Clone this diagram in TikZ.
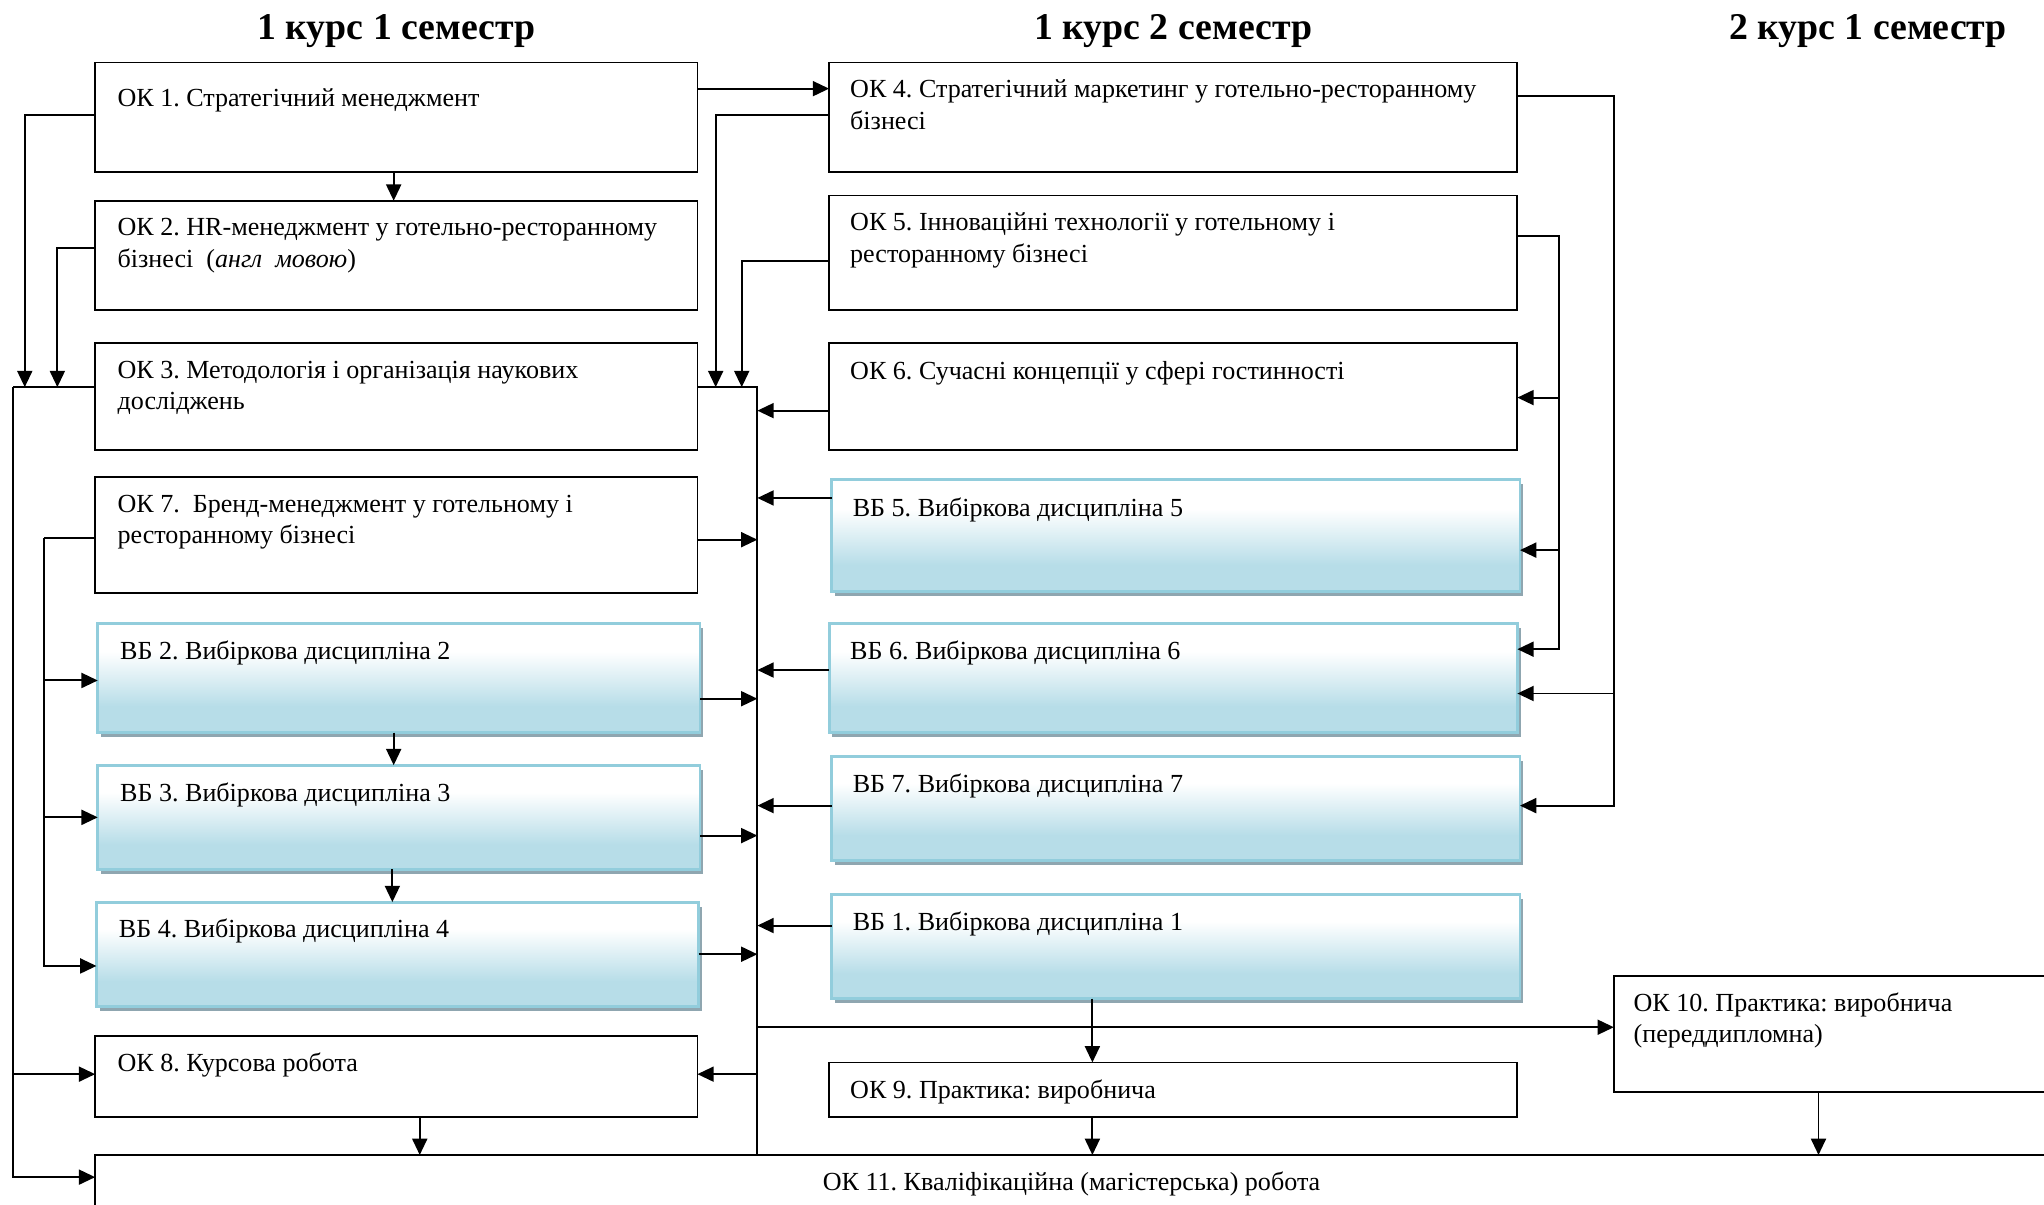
\documentclass[tikz,border=0pt]{standalone}
\usepackage{fontspec}
\setmainfont{Liberation Serif}
\usetikzlibrary{arrows.meta,shadows}
\definecolor{vbblue}{RGB}{183,221,232}
\definecolor{vbborder}{RGB}{146,205,220}
\definecolor{vbshadow}{RGB}{143,166,176}
\pgfdeclareverticalshading{vbshade}{100bp}{color(0bp)=(vbblue); color(25bp)=(vbblue); color(37bp)=(vbblue); color(62bp)=(white); color(75bp)=(white); color(100bp)=(white)}
\frenchspacing
\begin{document}
\begin{tikzpicture}[x=1pt,y=-1pt,
 okbox/.style={draw=black, line width=1.4pt, fill=white, anchor=north west, inner sep=0pt, outer sep=0pt},
 vbbox/.style={draw=vbborder, line width=2.2pt, shade, shading=vbshade, anchor=north west, inner sep=0pt, outer sep=0pt, drop shadow={shadow xshift=2.5pt, shadow yshift=-3.5pt, fill=vbshadow, opacity=1}},
 txt/.style={anchor=north west, inner sep=0pt, align=left, font=\fontsize{20}{24}\selectfont},
 hdr/.style={anchor=base, inner sep=0pt, font=\fontsize{29}{34}\selectfont\bfseries},
 con/.style={line width=1.5pt},
 arr/.style={con, -{Triangle[length=12.5pt,width=11.5pt]}},
]
\useasboundingbox (0,0) rectangle (1568,924);
\clip (0,0) rectangle (1568,924);

% headers
\node[hdr] (h1) at (304,30) {1 курс 1 семестр};
\node[hdr] (h2) at (900,30) {1 курс 2 семестр};
\node[hdr] (h3) at (1433,30) {2 курс 1 семестр};

% left column
\node[okbox, minimum width=462pt, minimum height=84pt] (ok1) at (73,48) {};
\node[okbox, minimum width=462pt, minimum height=84pt] (ok2) at (73,154) {};
\node[okbox, minimum width=462pt, minimum height=82pt] (ok3) at (73,263) {};
\node[okbox, minimum width=462pt, minimum height=89pt] (ok7) at (73,366) {};
\node[vbbox, minimum width=462pt, minimum height=84pt] (vb2) at (75,478) {};
\node[vbbox, minimum width=462pt, minimum height=80pt] (vb3) at (75,587) {};
\node[vbbox, minimum width=462pt, minimum height=80pt] (vb4) at (74,692) {};
\node[okbox, minimum width=462pt, minimum height=62pt] (ok8) at (73,795) {};
\node[okbox, minimum width=1520pt, minimum height=80pt] (ok11) at (73,886) {};
% middle column
\node[okbox, minimum width=528pt, minimum height=84pt] (ok4) at (636,48) {};
\node[okbox, minimum width=528pt, minimum height=88pt] (ok5) at (636,150) {};
\node[okbox, minimum width=528pt, minimum height=82pt] (ok6) at (636,263) {};
\node[vbbox, minimum width=528pt, minimum height=86pt] (vb5) at (638,368) {};
\node[vbbox, minimum width=528pt, minimum height=84pt] (vb6) at (636,478) {};
\node[vbbox, minimum width=528pt, minimum height=80pt] (vb7) at (638,580) {};
\node[vbbox, minimum width=528pt, minimum height=80pt] (vb1) at (638,686) {};
\node[okbox, minimum width=528pt, minimum height=42pt] (ok9) at (636,815) {};
\node[okbox, minimum width=400pt, minimum height=89pt] (ok10) at (1238,749) {};

% texts
\node[txt] (ok1t) at ([xshift=17pt,yshift=-17pt]ok1.north west) {\strut ОК 1. Стратегічний менеджмент};
\node[txt] (ok2t) at ([xshift=17pt,yshift=-10pt]ok2.north west) {\strut ОК 2. HR-менеджмент у готельно-ресторанному\\бізнесі\ \ (\textit{англ\ \ мовою})};
\node[txt] (ok3t) at ([xshift=17pt,yshift=-10pt]ok3.north west) {\strut ОК 3. Методологія і організація наукових\\досліджень};
\node[txt] (ok7t) at ([xshift=17pt,yshift=-10pt]ok7.north west) {\strut ОК 7.\ \ Бренд-менеджмент у готельному і\\ресторанному бізнесі};
\node[txt] (vb2t) at ([xshift=17pt,yshift=-11pt]vb2.north west) {\strut ВБ 2. Вибіркова дисципліна 2};
\node[txt] (vb3t) at ([xshift=17pt,yshift=-11pt]vb3.north west) {\strut ВБ 3. Вибіркова дисципліна 3};
\node[txt] (vb4t) at ([xshift=17pt,yshift=-10pt]vb4.north west) {\strut ВБ 4. Вибіркова дисципліна 4};
\node[txt] (ok8t) at ([xshift=17pt,yshift=-10pt]ok8.north west) {\strut ОК 8. Курсова робота};
\node[txt] (ok4t) at ([xshift=16pt,yshift=-10pt]ok4.north west) {\strut ОК 4. Стратегічний маркетинг у готельно-ресторанному\\бізнесі};
\node[txt] (ok5t) at ([xshift=16pt,yshift=-10pt]ok5.north west) {\strut ОК 5. Інноваційні технології у готельному і\\ресторанному бізнесі};
\node[txt] (ok6t) at ([xshift=16pt,yshift=-11pt]ok6.north west) {\strut ОК 6. Сучасні концепції у сфері гостинності};
\node[txt] (vb5t) at ([xshift=16pt,yshift=-11pt]vb5.north west) {\strut ВБ 5. Вибіркова дисципліна 5};
\node[txt] (vb6t) at ([xshift=16pt,yshift=-11pt]vb6.north west) {\strut ВБ 6. Вибіркова дисципліна 6};
\node[txt] (vb7t) at ([xshift=16pt,yshift=-11pt]vb7.north west) {\strut ВБ 7. Вибіркова дисципліна 7};
\node[txt] (vb1t) at ([xshift=16pt,yshift=-11pt]vb1.north west) {\strut ВБ 1. Вибіркова дисципліна 1};
\node[txt] (ok9t) at ([xshift=16pt,yshift=-11pt]ok9.north west) {\strut ОК 9. Практика: виробнича};
\node[txt] (ok10t) at ([xshift=15pt,yshift=-10pt]ok10.north west) {\strut ОК 10. Практика: виробнича\\(переддипломна)};
\node[anchor=base, inner sep=0pt, font=\fontsize{20}{24}\selectfont] (ok11t) at ([xshift=749pt,yshift=-27pt]ok11.north west) {ОК 11. Кваліфікаційна (магістерська) робота};

% reference coordinates
\coordinate (lb) at (10,297);
\coordinate (la1) at (19,297);
\coordinate (la2) at (44,297);
\coordinate (lb2) at (34,413);
\coordinate (rb) at (581,297);
\coordinate (ra1) at (549,297);
\coordinate (ra2) at (569,297);
\coordinate (rr) at (1238,0);
\coordinate (rr2) at (1196,0);

% ports
\coordinate (ok1l) at ([yshift=-40pt]ok1.north west);
\coordinate (ok1r) at ([yshift=-20pt]ok1.north east);
\coordinate (ok4l20) at ([yshift=-20pt]ok4.north west);
\coordinate (ok2l) at ([yshift=-36pt]ok2.north west);
\coordinate (ok3l) at ([yshift=-34pt]ok3.north west);
\coordinate (ok3r) at ([yshift=-34pt]ok3.north east);
\coordinate (ok7l) at ([yshift=-47pt]ok7.north west);
\coordinate (ok7r) at ([yshift=-48pt]ok7.north east);
\coordinate (vb2l) at ([yshift=-44pt]vb2.north west);
\coordinate (vb2r) at ([yshift=-58pt]vb2.north east);
\coordinate (vb3l) at ([yshift=-40pt]vb3.north west);
\coordinate (vb3r) at ([yshift=-54pt]vb3.north east);
\coordinate (vb4l) at ([yshift=-49pt]vb4.north west);
\coordinate (vb4r) at ([yshift=-40pt]vb4.north east);
\coordinate (ok8l) at ([yshift=-29pt]ok8.north west);
\coordinate (ok8r) at ([yshift=-29pt]ok8.north east);
\coordinate (ok11l) at ([yshift=-17pt]ok11.north west);
\coordinate (ok4l) at ([yshift=-40pt]ok4.north west);
\coordinate (ok4r) at ([yshift=-26pt]ok4.north east);
\coordinate (ok5l) at ([yshift=-50pt]ok5.north west);
\coordinate (ok5r) at ([yshift=-31pt]ok5.north east);
\coordinate (ok6l) at ([yshift=-52pt]ok6.north west);
\coordinate (ok6r) at ([yshift=-42pt]ok6.north east);
\coordinate (vb5l) at ([yshift=-14pt]vb5.north west);
\coordinate (vb5r) at ([yshift=-54pt]vb5.north east);
\coordinate (vb6l) at ([yshift=-36pt]vb6.north west);
\coordinate (vb6r1) at ([yshift=-20pt]vb6.north east);
\coordinate (vb6r2) at ([yshift=-54pt]vb6.north east);
\coordinate (vb7l) at ([yshift=-38pt]vb7.north west);
\coordinate (vb7r) at ([yshift=-38pt]vb7.north east);
\coordinate (vb1l) at ([yshift=-24pt]vb1.north west);
\coordinate (ok10l) at ([yshift=-39pt]ok10.north west);
\coordinate (c9) at ([xshift=-62pt]ok9.north);
\coordinate (c10) at ([xshift=157pt]ok10.south west);
\coordinate (c8) at ([xshift=18pt]ok8.south);

% connectors left column
\draw[arr] (ok1r) -- (ok4l20);
\draw[arr] ([xshift=-2pt]ok1.south) -- ([xshift=-2pt]ok2.north);
\draw[arr] (ok1l) -| (la1);
\draw[arr] (ok2l) -| (la2);
\draw[con] (ok3l) -- (lb);
\draw[arr] (lb) |- (ok11l);
\draw[arr] (lb |- ok8l) -- (ok8l);
\draw[con] (ok7l) -- (lb2);
\draw[arr] (lb2) |- (vb4l);
\draw[arr] (lb2 |- vb2l) -- (vb2l);
\draw[arr] (lb2 |- vb3l) -- (vb3l);
\draw[arr] ([xshift=-4pt]vb2.south) -- ([xshift=-4pt]vb3.north);
\draw[arr] ([xshift=-5pt]vb3.south) -- ([xshift=-4pt]vb4.north);
\draw[arr] (c8) -- (c8 |- ok11.north);

% right bus
\draw[con] (ok3r) -- (rb) -- (rb |- ok11.north);
\draw[arr] (ok7r) -- (ok7r -| rb);
\draw[arr] (vb2r) -- (vb2r -| rb);
\draw[arr] (vb3r) -- (vb3r -| rb);
\draw[arr] (vb4r) -- (vb4r -| rb);
\draw[arr] (rb |- ok8r) -- (ok8r);
\draw[arr] (ok6l) -- (ok6l -| rb);
\draw[arr] (vb5l) -- (vb5l -| rb);
\draw[arr] (vb6l) -- (vb6l -| rb);
\draw[arr] (vb7l) -- (vb7l -| rb);
\draw[arr] (vb1l) -- (vb1l -| rb);
\draw[arr] (ok4l) -| (ra1);
\draw[arr] (ok5l) -| (ra2);
\draw[arr] (rb |- ok10l) -- (ok10l);

% bottom
\draw[arr] (c9 |- vb1.south) -- (c9);
\draw[arr] (c9 |- ok9.south) -- (c9 |- ok11.north);
\draw[arr] (c10) -- (c10 |- ok11.north);

% right side
\draw[arr] (ok4r) -- (ok4r -| rr) -- (rr |- vb7r) -- (vb7r);
\draw[arr] (rr |- vb6r2) -- (vb6r2);
\draw[arr] (ok5r) -- (ok5r -| rr2) -- (rr2 |- vb6r1) -- (vb6r1);
\draw[arr] (rr2 |- ok6r) -- (ok6r);
\draw[arr] (rr2 |- vb5r) -- (vb5r);
\end{tikzpicture}
\end{document}
